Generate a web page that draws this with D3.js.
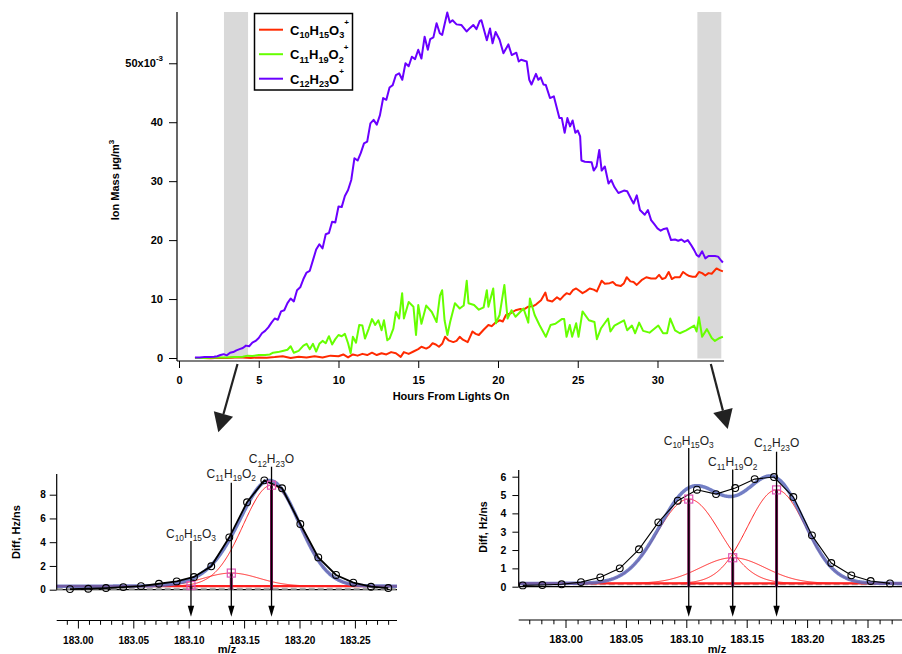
<!DOCTYPE html>
<html>
<head>
<meta charset="utf-8">
<script src="https://cdn.jsdelivr.net/npm/d3@7"></script>
<style>
  body { margin: 0; background: #fff; }
  svg { font-family: "Liberation Sans", Arial, sans-serif; }
</style>
</head>
<body>
<svg id="chart" width="902" height="654"></svg>
<script>
// ---------- data: time series (hours from lights on, ion mass x1e-3 ug/m3)
const c10Series = [
  [1.0,0.0],[1.5,0.0],[2.0,-0.05],[2.5,0.05],[3.0,0.0],[3.5,0.1],[4.0,0.1],[4.5,0.0],[5.0,0.1],[5.5,0.05],
  [6.0,0.15],[6.5,0.3],[7.0,0.0],[7.5,0.2],[8.0,0.1],[8.5,0.3],[9.0,0.1],[9.5,0.4],[10.0,0.3],[10.3,0.6],
  [10.6,0.1],[10.9,0.6],[11.2,0.4],[11.5,0.7],[11.8,0.5],[12.1,0.9],[12.4,0.5],[12.7,0.8],[13.0,0.6],[13.3,1.0],
  [13.6,0.8],[13.9,0.2],[14.1,1.0],[14.4,0.7],[14.7,1.1],[15.0,1.5],[15.2,1.9],[15.5,1.6],[15.7,1.9],[15.9,2.5],
  [16.1,2.3],[16.3,1.9],[16.5,2.4],[16.68,3.6],[16.9,3.0],[17.2,2.7],[17.4,2.9],[17.6,3.6],[17.8,3.1],[18.1,2.7],
  [18.4,4.5],[18.6,4.1],[18.8,3.9],[19.1,4.8],[19.4,5.6],[19.6,5.4],[19.8,5.9],[20.1,6.4],[20.3,6.2],[20.5,7.3],
  [20.8,7.6],[21.1,8.1],[21.4,8.3],[21.6,8.2],[21.9,8.7],[22.2,8.8],[22.4,9.1],[22.7,9.8],[22.97,11.1],[23.1,9.8],
  [23.4,9.6],[23.7,10.3],[23.9,9.9],[24.1,10.5],[24.3,11.0],[24.5,10.8],[24.7,11.5],[24.9,11.8],[25.1,11.4],[25.3,11.0],
  [25.5,11.3],[25.75,11.8],[26.0,11.6],[26.2,11.3],[26.5,13.1],[26.7,12.6],[27.0,12.7],[27.2,12.9],[27.4,12.4],[27.7,12.2],
  [27.9,12.7],[28.07,13.7],[28.3,13.0],[28.5,12.9],[28.7,12.4],[29.0,13.2],[29.3,13.7],[29.6,13.5],[29.9,13.5],[30.1,14.1],
  [30.3,13.4],[30.5,13.6],[30.7,14.6],[30.9,13.4],[31.1,13.7],[31.4,13.7],[31.6,14.6],[31.8,14.2],[32.0,13.9],[32.2,13.8],
  [32.4,13.8],[32.6,14.6],[32.8,14.4],[33.0,14.0],[33.2,14.4],[33.4,14.3],[33.7,15.2],[33.9,14.9],[34.1,14.7]
];
const c11Series = [
  [1.0,0.0],[1.5,0.0],[2.0,0.05],[2.5,0.1],[3.0,0.1],[3.5,0.15],[4.0,0.2],[4.3,0.4],[4.6,0.35],[5.0,0.5],
  [5.4,0.5],[5.7,0.6],[5.9,0.9],[6.2,1.0],[6.5,1.2],[6.8,1.4],[7.0,2.0],[7.2,0.9],[7.5,1.2],[7.8,2.1],
  [8.0,2.4],[8.2,1.5],[8.4,2.4],[8.6,1.1],[8.8,2.4],[9.0,2.9],[9.2,2.5],[9.4,3.7],[9.6,2.3],[9.8,3.2],
  [10.0,3.9],[10.2,3.7],[10.4,4.1],[10.6,2.5],[10.76,0.8],[10.9,3.6],[11.1,2.6],[11.3,5.6],[11.5,5.5],[11.66,3.3],
  [11.9,5.0],[12.1,6.6],[12.3,5.6],[12.5,6.4],[12.7,4.7],[12.85,6.4],[13.06,3.0],[13.2,3.3],[13.44,5.0],[13.6,7.8],
  [13.8,6.7],[13.99,11.0],[14.1,6.7],[14.4,9.5],[14.7,8.7],[14.86,3.9],[15.0,9.0],[15.2,5.8],[15.5,8.9],[15.85,7.8],
  [16.15,6.1],[16.36,10.6],[16.5,11.5],[16.65,6.4],[16.83,3.9],[17.0,6.1],[17.3,9.3],[17.6,8.4],[17.85,8.9],[18.04,13.1],
  [18.15,9.3],[18.5,9.0],[18.8,8.2],[19.1,8.6],[19.3,11.5],[19.4,8.7],[19.7,11.8],[19.87,5.9],[20.1,7.3],[20.4,12.4],
  [20.6,6.7],[20.85,8.1],[21.1,7.0],[21.6,8.4],[21.9,6.0],[22.0,10.1],[22.3,7.3],[22.6,5.6],[23.0,3.6],[23.3,5.6],
  [23.6,5.8],[24.0,6.6],[24.15,6.6],[24.3,3.6],[24.5,5.6],[24.65,3.6],[24.9,5.9],[25.05,3.6],[25.3,7.9],[25.7,6.4],
  [26.05,6.1],[26.2,3.2],[26.45,5.0],[26.9,6.7],[27.05,4.5],[27.3,5.5],[27.9,6.4],[28.1,4.7],[28.4,5.5],[28.6,4.2],
  [28.85,6.0],[29.1,4.6],[29.5,4.3],[30.05,5.5],[30.35,4.2],[30.6,4.2],[30.8,6.7],[31.1,4.7],[31.4,4.2],[31.8,4.7],
  [32.3,5.5],[32.45,4.5],[32.6,6.9],[32.8,3.6],[33.1,4.9],[33.4,3.4],[33.6,2.9],[33.9,3.4],[34.1,3.6]
];
const c12Series = [
  [1.0,0.1],[1.3,0.1],[1.6,0.15],[1.9,0.15],[2.2,0.2],[2.4,0.3],[2.6,0.5],[2.8,0.65],[3.0,0.45],[3.2,0.9],
  [3.4,1.0],[3.6,1.3],[3.8,1.5],[4.0,1.7],[4.2,2.1],[4.4,2.0],[4.6,2.6],[4.8,2.9],[5.0,3.4],[5.2,4.2],
  [5.4,4.6],[5.6,5.2],[5.8,6.0],[6.0,6.7],[6.2,6.5],[6.4,7.9],[6.6,8.1],[6.8,9.3],[7.0,10.1],[7.2,9.6],
  [7.4,11.5],[7.6,12.0],[7.8,13.4],[8.0,14.5],[8.2,14.8],[8.4,16.6],[8.6,18.4],[8.8,19.3],[9.0,18.6],[9.2,21.0],
  [9.4,21.2],[9.6,23.1],[9.8,23.0],[10.0,25.7],[10.2,25.6],[10.4,27.5],[10.6,28.5],[10.8,30.2],[11.0,33.9],[11.2,33.5],
  [11.4,34.8],[11.6,36.4],[11.8,36.7],[12.0,39.8],[12.2,40.4],[12.4,39.6],[12.6,41.2],[12.8,44.1],[13.0,43.8],[13.2,45.9],
  [13.4,46.3],[13.6,48.0],[13.8,48.3],[14.0,47.2],[14.2,50.0],[14.4,49.5],[14.6,51.1],[14.8,50.7],[15.0,52.3],[15.2,50.8],
  [15.4,54.5],[15.6,52.3],[15.75,54.1],[15.95,54.4],[16.15,56.8],[16.35,55.1],[16.5,54.8],[16.82,58.6],[16.98,56.9],[17.15,57.3],
  [17.4,56.6],[17.7,56.5],[18.03,55.4],[18.25,56.0],[18.45,56.5],[18.65,55.8],[18.86,57.2],[18.96,57.3],[19.3,53.9],[19.5,55.9],
  [19.66,53.4],[19.85,55.3],[20.1,54.0],[20.34,51.7],[20.65,53.2],[20.86,51.4],[21.15,51.8],[21.3,50.3],[21.45,50.6],[21.8,50.3],
  [21.96,47.2],[22.1,46.4],[22.38,48.2],[22.53,47.2],[22.68,47.6],[22.85,46.4],[23.0,46.3],[23.26,44.1],[23.5,44.4],[23.85,40.7],
  [24.0,40.7],[24.18,38.2],[24.35,40.7],[24.52,39.3],[24.68,40.3],[24.85,38.2],[25.0,38.6],[25.15,37.6],[25.23,33.5],[25.45,33.3],
  [25.87,33.2],[26.0,31.8],[26.18,32.5],[26.35,35.3],[26.5,31.8],[26.7,32.5],[26.93,29.6],[27.1,30.2],[27.3,29.0],[27.55,28.0],
  [27.9,28.4],[28.1,28.3],[28.38,26.8],[28.5,26.2],[28.7,27.6],[28.9,25.1],[29.2,24.3],[29.4,25.1],[29.6,23.4],[29.8,22.7],
  [30.0,22.0],[30.2,21.6],[30.4,21.9],[30.6,22.0],[30.85,20.0],[31.1,20.1],[31.3,19.9],[31.5,20.1],[31.7,19.7],[31.9,20.0],
  [32.1,19.2],[32.3,18.3],[32.45,17.5],[32.6,17.2],[32.8,18.1],[33.0,16.9],[33.2,17.3],[33.4,17.3],[33.6,17.3],[33.8,17.2],
  [34.0,16.5],[34.1,16.2]
];
const shadeBands = [[2.82, 4.33], [32.5, 34.0]];
const hourTicks = [0, 5, 10, 15, 20, 25, 30];
const massTicks = [0, 10, 20, 30, 40, 50];

// ---------- data: mass spectra (m/z, Hz/ns)
const peakNames = ["C10H15O3", "C11H19O2", "C12H23O"];
const peakMasses = [183.1016, 183.1380, 183.1743];

const earlyMz = [182.9924,183.0089,183.0249,183.0405,183.0565,183.0727,183.0887,183.1043,183.1199,183.1362,
                 183.1522,183.1678,183.1838,183.2003,183.2165,183.2325,183.2481,183.2641,183.2797];
const earlySignal = [0.05,0.08,0.14,0.22,0.30,0.50,0.70,1.07,1.97,4.41,7.36,9.21,8.54,5.53,2.72,1.24,0.59,0.25,0.14];
const earlyHeights = [0.05, 1.1, 8.5];
const earlyWidths = [0.025, 0.025, 0.0255];
const earlyBaseline = 0.3;

const lateMz = [182.9642,182.9804,182.9964,183.0124,183.0284,183.0445,183.0604,183.0764,183.0925,183.1084,
                183.1242,183.1401,183.1562,183.1722,183.1882,183.2036,183.2196,183.2362,183.2522,183.2682];
const lateSignal = [0.07,0.09,0.13,0.25,0.51,1.00,2.04,3.51,4.69,5.29,5.05,5.38,5.87,5.98,4.89,2.80,1.29,0.62,0.31,0.18];
const lateHeights = [4.6, 1.4, 5.1];
const lateWidths = [0.026, 0.027, 0.024];
const lateBaseline = 0.18;

const mzTicks = [183.00, 183.05, 183.10, 183.15, 183.20, 183.25];

const svg = d3.select("#chart");

function addFormula(text, formula, size, charge) {
  const parts = formula.match(/[A-Z][a-z]?|\d+/g);
  let shift = 0;
  parts.forEach(p => {
    const isSub = /\d/.test(p);
    const target = isSub ? size * 0.3 : 0;
    text.append("tspan").text(p)
      .attr("dy", target - shift)
      .attr("font-size", isSub ? size * 0.7 : size);
    shift = target;
  });
  if (charge) {
    const target = -size * 0.72;
    text.append("tspan").text(charge)
      .attr("dy", target - shift)
      .attr("font-size", size * 0.62);
  }
}

// ================= top chart =================
const xTop = d3.scaleLinear().domain([0, 34.17]).range([179, 724]);
const yTop = d3.scaleLinear().domain([0, 58.7]).range([358, 12]);

svg.append("g").selectAll("rect")
  .data(shadeBands)
  .enter()
  .append("rect")
  .attr("x", d => xTop(d[0]))
  .attr("width", d => xTop(d[1]) - xTop(d[0]))
  .attr("y", yTop(58.7))
  .attr("height", yTop(0) - yTop(58.7) + 0.5)
  .attr("fill", "#d9d9d9");

const series = [
  {name: "C10H15O3", color: "#ff2a00", values: c10Series},
  {name: "C11H19O2", color: "#66ff00", values: c11Series},
  {name: "C12H23O", color: "#6a00ff", values: c12Series}
];

const line = d3.line().x(d => xTop(d[0])).y(d => yTop(d[1]));

svg.append("g").selectAll("path")
  .data(series)
  .enter()
  .append("path")
  .attr("d", d => line(d.values))
  .attr("fill", "none")
  .attr("stroke", d => d.color)
  .attr("stroke-width", 2)
  .attr("stroke-linejoin", "round");

// axes
const xAxisTop = svg.append("g")
  .attr("transform", "translate(0,361)")
  .call(d3.axisBottom(xTop).tickValues(hourTicks).tickSize(7).tickPadding(8).tickFormat(d3.format("d")));
xAxisTop.select(".domain").remove();
xAxisTop.append("line").attr("x1", 177).attr("x2", 724).attr("stroke", "#000").attr("stroke-width", 1.2);

const yAxisTop = svg.append("g")
  .attr("transform", "translate(177,0)")
  .call(d3.axisLeft(yTop).tickValues(massTicks).tickSize(8).tickPadding(6));
yAxisTop.select(".domain").remove();
yAxisTop.append("line").attr("y1", 12).attr("y2", 361).attr("stroke", "#000").attr("stroke-width", 1.2);

svg.selectAll(".tick text").attr("font-size", 11).attr("font-weight", "bold").attr("font-family", "Liberation Sans, Arial, sans-serif").attr("fill", "#000");
svg.selectAll(".tick line").attr("stroke", "#000");

yAxisTop.selectAll(".tick").filter(d => d === 50).select("text")
  .text(null)
  .call(t => {
    t.append("tspan").text("50x10");
    t.append("tspan").text("-3").attr("dy", -6).attr("font-size", 8);
  });

svg.append("text")
  .attr("transform", "translate(119,180) rotate(-90)")
  .attr("text-anchor", "middle")
  .attr("font-size", 11)
  .attr("font-weight", "bold")
  .call(t => {
    t.append("tspan").text("Ion Mass µg/m");
    t.append("tspan").text("3").attr("dy", -5).attr("font-size", 8);
  });

svg.append("text")
  .attr("x", 451).attr("y", 400)
  .attr("text-anchor", "middle")
  .attr("font-size", 11)
  .attr("font-weight", "bold")
  .text("Hours From Lights On");

// legend
const legend = svg.append("g");
legend.append("rect")
  .attr("x", 254.5).attr("y", 13.5)
  .attr("width", 98).attr("height", 76.5)
  .attr("fill", "#fff").attr("stroke", "#000").attr("stroke-width", 1.5);
const legendRows = legend.selectAll(".legendRow")
  .data(series)
  .enter()
  .append("g")
  .attr("class", "legendRow")
  .attr("transform", (d, i) => "translate(0," + (29.7 + i * 24.5) + ")");
legendRows.append("line")
  .attr("x1", 259).attr("x2", 283)
  .attr("stroke", d => d.color).attr("stroke-width", 2);
legendRows.append("text")
  .attr("x", 290).attr("y", 4.8)
  .attr("font-size", 13).attr("font-weight", "bold")
  .each(function (d) { addFormula(d3.select(this), d.name, 13, "+"); });

// link arrows from shaded periods to spectra
const bigArrows = [
  {band: shadeBands[0], tip: [218.3, 432.3]},
  {band: shadeBands[1], tip: [727.7, 429]}
];
bigArrows.forEach(a => {
  const x0 = xTop((a.band[0] + a.band[1]) / 2) + 1.5, y0 = 364;
  const dx = a.tip[0] - x0, dy = a.tip[1] - y0;
  const len = Math.hypot(dx, dy), ux = dx / len, uy = dy / len;
  const headLen = 19, headHalf = 10;
  const bx = a.tip[0] - ux * headLen, by = a.tip[1] - uy * headLen;
  svg.append("line")
    .attr("x1", x0).attr("y1", y0).attr("x2", bx).attr("y2", by)
    .attr("stroke", "#222").attr("stroke-width", 2.2);
  svg.append("path")
    .attr("d", "M" + a.tip[0] + "," + a.tip[1] +
      "L" + (bx - uy * headHalf) + "," + (by + ux * headHalf) +
      "L" + (bx + uy * headHalf) + "," + (by - ux * headHalf) + "Z")
    .attr("fill", "#222");
});

// ================= spectra =================
function drawSpectrum(cfg) {
  const g = svg.append("g");
  const x = d3.scaleLinear().domain([183, 183.25]).range(cfg.xPx);
  const y = d3.scaleLinear().domain([0, cfg.yRef]).range(cfg.yPx);
  const mzLo = x.invert(cfg.xEdge[0]), mzHi = x.invert(cfg.xEdge[1]);
  const grid = d3.range(mzLo, mzHi, 0.0005).concat([mzHi]);

  const gauss = (m, i) => cfg.heights[i] *
    Math.exp(-Math.pow(m - peakMasses[i], 2) / (2 * cfg.widths[i] * cfg.widths[i]));
  const total = m => cfg.baseline + peakMasses.reduce((s, c, i) => s + gauss(m, i), 0);

  // zero line
  g.append("line")
    .attr("x1", cfg.xEdge[0]).attr("x2", cfg.xEdge[1])
    .attr("y1", y(0)).attr("y2", y(0))
    .attr("stroke", "#000").attr("stroke-width", 1.2);

  // dashed reference
  g.append("line")
    .attr("x1", cfg.xEdge[0]).attr("x2", cfg.xEdge[1])
    .attr("y1", y(cfg.dashLevel)).attr("y2", y(cfg.dashLevel))
    .attr("stroke", "#aaa").attr("stroke-width", 2).attr("stroke-dasharray", "6,3");

  // individual peaks
  const fitLine = d3.line().x(d => x(d[0])).y(d => y(d[1]));
  peakMasses.forEach((c, i) => {
    g.append("path")
      .attr("d", fitLine(grid.map(m => [m, cfg.baseline + gauss(m, i)])))
      .attr("fill", "none").attr("stroke", "#ff2020").attr("stroke-width", 1);
  });
  g.append("path")
    .attr("d", fitLine(grid.map(m => [m, cfg.baseline])))
    .attr("fill", "none").attr("stroke", "#ff2020").attr("stroke-width", 2.2);

  // total fit
  g.append("path")
    .attr("d", fitLine(grid.map(m => [m, total(m)])))
    .attr("fill", "none").attr("stroke", "#5a68bb").attr("stroke-width", 3.5)
    .attr("stroke-opacity", 0.85);

  // measured signal
  const pts = cfg.mz.map((m, i) => [m, cfg.signal[i]]);
  g.append("path")
    .attr("d", fitLine(pts))
    .attr("fill", "none").attr("stroke", "#000").attr("stroke-width", cfg.dataWidth);
  g.selectAll(".obs")
    .data(pts)
    .enter()
    .append("circle")
    .attr("class", "obs")
    .attr("cx", d => x(d[0])).attr("cy", d => y(d[1]))
    .attr("r", 3.4)
    .attr("fill", "none").attr("stroke", "#000").attr("stroke-width", 1.1);

  // sticks + markers
  peakMasses.forEach((c, i) => {
    const top = cfg.baseline + cfg.heights[i];
    g.append("line")
      .attr("x1", x(c)).attr("x2", x(c))
      .attr("y1", y(0)).attr("y2", y(top))
      .attr("stroke", "#7a1555").attr("stroke-width", 3);
    g.append("rect")
      .attr("x", x(c) - 4).attr("y", y(top) - 4)
      .attr("width", 8).attr("height", 8)
      .attr("fill", "none").attr("stroke", "#e055b5").attr("stroke-width", 1.2);
    g.append("line")
      .attr("x1", x(c) - 4).attr("x2", x(c) + 4)
      .attr("y1", y(top)).attr("y2", y(top))
      .attr("stroke", "#e055b5").attr("stroke-width", 1);
  });

  // labelled arrows
  peakMasses.forEach((c, i) => {
    const px = x(c);
    g.append("line")
      .attr("x1", px).attr("x2", px)
      .attr("y1", cfg.arrowTop[i]).attr("y2", cfg.arrowTip - 9)
      .attr("stroke", "#000").attr("stroke-width", 1.3);
    g.append("path")
      .attr("d", "M" + px + "," + cfg.arrowTip + "l-3.2,-11h6.4z")
      .attr("fill", "#000");
    g.append("text")
      .attr("x", px).attr("y", cfg.labelY[i])
      .attr("text-anchor", "middle")
      .attr("fill", "#222")
      .call(t => addFormula(t, peakNames[i], cfg.labelSize));
  });

  // y axis
  const yAxis = g.append("g")
    .attr("transform", "translate(" + cfg.xEdge[0] + ",0)")
    .call(d3.axisLeft(y).tickValues(cfg.yTicks).tickSize(cfg.yTickSize).tickPadding(cfg.yPad).tickFormat(d3.format("d")));
  yAxis.select(".domain").remove();
  yAxis.append("line").attr("y1", cfg.yTop).attr("y2", y(0)).attr("stroke", "#000").attr("stroke-width", 1.2);
  yAxis.selectAll(".tick text").attr("font-size", cfg.yFont).attr("font-weight", "bold").attr("fill", "#000");
  yAxis.selectAll(".tick line").attr("stroke", "#000");

  // lower m/z axis
  const ax = g.append("g").attr("transform", "translate(0," + cfg.axisY + ")");
  ax.append("line").attr("x1", cfg.xEdge[0]).attr("x2", cfg.xEdge[1]).attr("stroke", "#000").attr("stroke-width", 1.2);
  const minor = d3.range(Math.ceil(mzLo * 100), Math.floor(mzHi * 100) + 1).map(v => v / 100);
  ax.selectAll(".mt")
    .data(minor)
    .enter()
    .append("line")
    .attr("x1", d => x(d)).attr("x2", d => x(d))
    .attr("y1", 0)
    .attr("y2", d => Math.round(d * 100) % 5 === 0 ? 8 : 4.3)
    .attr("stroke", "#000").attr("stroke-width", 1);
  ax.selectAll(".ml")
    .data(mzTicks)
    .enter()
    .append("text")
    .attr("x", d => x(d)).attr("y", cfg.xLabelDy)
    .attr("text-anchor", "middle")
    .attr("font-size", cfg.xFont).attr("font-weight", "bold")
    .text(d3.format(".2f"));

  g.append("text")
    .attr("x", cfg.mzLabel[0]).attr("y", cfg.mzLabel[1])
    .attr("text-anchor", "middle")
    .attr("font-size", 11).attr("font-weight", "bold")
    .text("m/z");

  g.append("text")
    .attr("transform", "translate(" + cfg.diffLabel[0] + "," + cfg.diffLabel[1] + ") rotate(-90)")
    .attr("text-anchor", "middle")
    .attr("font-size", cfg.diffFont).attr("font-weight", "bold")
    .text("Diff, Hz/ns");
}

drawSpectrum({
  xPx: [78.4, 355.4], xEdge: [56.7, 397],
  yRef: 8, yPx: [589.7, 494.7], yTop: 474, yTicks: [0, 2, 4, 6, 8],
  yTickSize: 7, yPad: 4, yFont: 10,
  axisY: 620.5, xLabelDy: 23.5, xFont: 10,
  mz: earlyMz, signal: earlySignal, heights: earlyHeights, widths: earlyWidths,
  baseline: earlyBaseline, dashLevel: 0.08, dataWidth: 1.8,
  labelY: [537.5, 477.5, 463], arrowTop: [541, 482.7, 466.7], arrowTip: 616.7, labelSize: 12,
  mzLabel: [227, 653], diffLabel: [20, 532], diffFont: 11
});

drawSpectrum({
  xPx: [566, 868], xEdge: [518.7, 902],
  yRef: 6, yPx: [586.7, 476.7], yTop: 470, yTicks: [0, 1, 2, 3, 4, 5, 6],
  yTickSize: 6.3, yPad: 6, yFont: 10.5,
  axisY: 620, xLabelDy: 23, xFont: 11,
  mz: lateMz, signal: lateSignal, heights: lateHeights, widths: lateWidths,
  baseline: lateBaseline, dashLevel: 0.13, dataWidth: 1.1,
  labelY: [444.5, 466, 447], arrowTop: [448, 469.5, 451.7], arrowTip: 616.7, labelSize: 12,
  mzLabel: [717, 653], diffLabel: [487, 527], diffFont: 10.5
});
</script>
</body>
</html>
